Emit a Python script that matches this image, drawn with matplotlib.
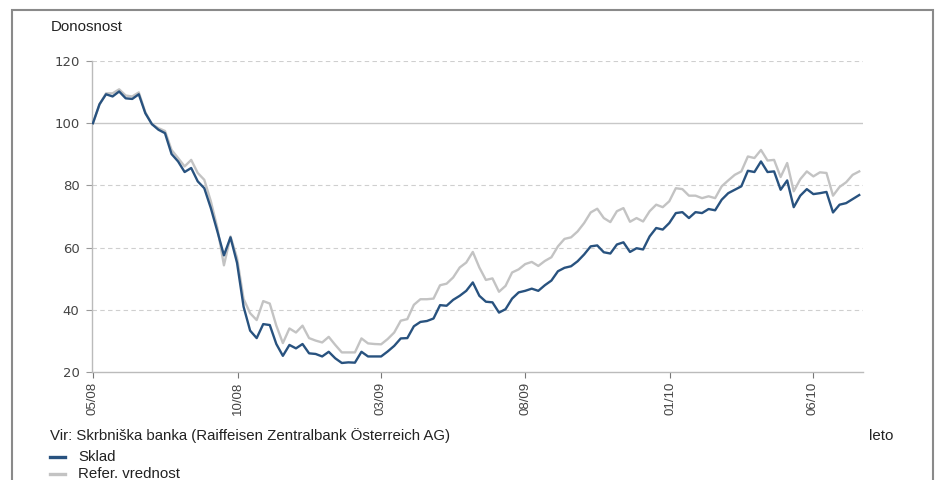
import pandas as pd
import matplotlib.pyplot as plt
from matplotlib.patches import Rectangle
from matplotlib.lines import Line2D

plt.rcParams['font.family'] = ['Liberation Sans', 'DejaVu Sans']

# weekly values, 05/2008 - 07/2010
sklad = [
    100.0, 106.1, 109.3, 108.6, 110.2, 108.0, 107.8, 109.3, 103.2, 99.7,
    97.9, 96.8, 90.1, 87.7, 84.3, 85.6, 81.3, 79.1, 72.7, 65.2,
    57.5, 63.3, 55.1,
    41.0, 33.3, 30.9, 35.4, 35.1, 29.0, 25.2, 28.7, 27.6, 29.0,
    26.0, 25.8, 25.0, 26.5, 24.4, 22.9, 23.1, 23.0, 26.5, 25.0,
    25.0, 25.0, 26.6,
    28.4, 30.8, 30.9, 34.7, 36.1, 36.4, 37.2, 41.5, 41.3, 43.2,
    44.5, 46.1, 48.8, 44.5, 42.6, 42.4, 39.1, 40.2, 43.6, 45.6,
    46.1, 46.8, 46.1, 47.9,
    49.4, 52.4, 53.5, 54.0, 55.6, 57.8, 60.4, 60.7, 58.5, 58.1,
    61.0, 61.7, 58.6, 59.8, 59.4, 63.6, 66.3, 65.8, 67.9, 71.1,
    71.4, 69.5, 71.4, 71.1,
    72.4, 72.0, 75.4, 77.5, 78.6, 79.7, 84.7, 84.3, 87.7, 84.3,
    84.5, 78.6, 81.6, 73.0, 76.7, 78.8, 77.2, 77.5, 77.9, 71.3,
    73.8, 74.3, 75.6, 76.9,
]
referenca = [
    100.0, 106.0, 109.6, 109.6, 110.9, 108.9, 108.6, 109.9, 103.5, 99.7,
    98.4, 97.5, 91.4, 88.8, 86.1, 88.2, 84.0, 81.8, 74.9, 66.3,
    54.3, 63.6, 56.7,
    43.5, 38.9, 36.7, 42.8, 42.0, 34.9, 29.3, 34.0, 32.7, 34.9,
    30.9, 30.1, 29.5, 31.3, 28.7, 26.3, 26.3, 26.3, 30.8, 29.2,
    29.0, 28.9, 30.6,
    32.7, 36.5, 37.0, 41.6, 43.4, 43.4, 43.6, 47.9, 48.4, 50.4,
    53.6, 55.2, 58.6, 53.6, 49.6, 50.1, 45.8, 47.7, 52.0, 53.0,
    54.7, 55.4, 54.1, 55.7,
    56.9, 60.4, 62.8, 63.3, 65.2, 67.9, 71.3, 72.5, 69.5, 68.2,
    71.7, 72.7, 68.3, 69.5, 68.4, 71.7, 73.8, 73.0, 74.9, 79.1,
    78.8, 76.7, 76.7, 75.9,
    76.5, 75.9, 79.7, 81.6, 83.4, 84.5, 89.3, 88.8, 91.4, 88.0,
    88.2, 82.7, 87.2, 78.1, 82.0, 84.5, 82.9, 84.2, 84.0, 76.7,
    79.5, 81.0, 83.4, 84.5,
]
y_ticks = [20, 40, 60, 80, 100, 120]
tick_labels = ['05/08', '10/08', '03/09', '08/09', '01/10', '06/10']
tick_dates = pd.to_datetime(['2008-05-01', '2008-10-01', '2009-03-01',
                             '2009-08-01', '2010-01-01', '2010-06-01'])
dates = pd.date_range('2008-05-01', '2010-07-20', periods=len(sklad))

col_sklad = '#28527f'
col_ref = '#c3c3c3'
txt = '#222222'

fig = plt.figure(figsize=(9.41, 4.8), dpi=100)
ax = fig.add_axes([92 / 941, 1 - 372 / 480, (863 - 92) / 941, (372 - 61) / 480])

ax.plot(dates, referenca, color=col_ref, lw=1.7, zorder=3)
ax.plot(dates, sklad, color=col_sklad, lw=1.7, zorder=4)

ax.set_ylim(20, 120)
ax.set_xlim(dates[0] - pd.Timedelta(days=1), dates[-1] + pd.Timedelta(days=4))
ax.set_yticks(y_ticks)
ax.set_yticklabels([str(v) for v in y_ticks], fontfamily='DejaVu Sans',
                   fontsize=9.5, color='#444444')
for v in [40, 60, 80, 120]:
    ax.axhline(v, color='#cfcfcf', lw=0.8, ls=(0, (4, 3)), zorder=1)
ax.axhline(100, color='#c8c8c8', lw=1.0, zorder=1)

ax.set_xticks(tick_dates)
ax.set_xticklabels(tick_labels, rotation=90, fontsize=9.5, color='#444444')
ax.tick_params(axis='y', length=4, width=0.8, color='#999999', pad=5)
ax.tick_params(axis='x', length=4, width=0.8, color='#777777', pad=3)

for s in ['top', 'right']:
    ax.spines[s].set_visible(False)
for s in ['left', 'bottom']:
    ax.spines[s].set_color('#bbbbbb')
    ax.spines[s].set_linewidth(1.0)

fs = 10.8
fig.text(51 / 941, 1 - 27 / 480, 'Donosnost', fontsize=fs, va='center', ha='left', color=txt)
fig.text(50 / 941, 1 - 436 / 480, 'Vir: Skrbniška banka (Raiffeisen Zentralbank Österreich AG)',
         fontsize=fs, va='center', ha='left', color=txt)
fig.text(869 / 941, 1 - 436 / 480, 'leto', fontsize=fs, va='center', ha='left', color=txt)

# legend
for yy, c, lab in [(457, col_sklad, 'Sklad'), (474, col_ref, 'Refer. vrednost')]:
    fig.add_artist(Line2D([50 / 941, 65 / 941], [1 - yy / 480] * 2, color=c, lw=2.4))
    fig.text(78 / 941, 1 - yy / 480, lab, fontsize=fs, va='center', ha='left', color=txt)

# outer frame
fig.add_artist(Rectangle((12 / 941, -0.1), (933 - 12) / 941, 1.1 - 10 / 480,
                         transform=fig.transFigure, fill=False, ec='#8a8a8a', lw=1.5))

fig.savefig('out.png', dpi=100)
